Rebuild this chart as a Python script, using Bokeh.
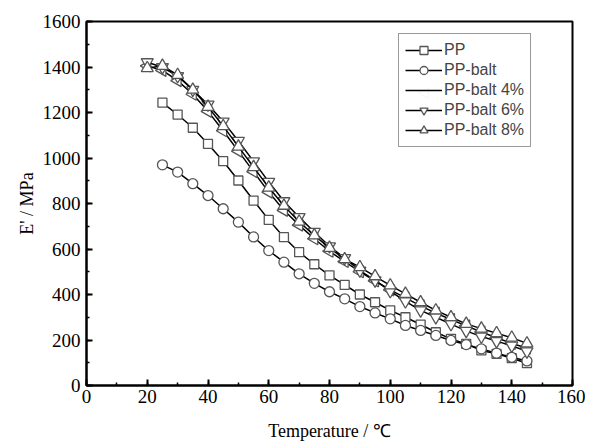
import math
from bokeh.plotting import figure
from bokeh.models import Range1d, SingleIntervalTicker, Legend, LegendItem, Label
from bokeh.embed import file_html
from bokeh.resources import INLINE

temps_tri = list(range(20, 150, 5))
temps_pp = list(range(25, 150, 5))

pp = [1243, 1191, 1133, 1062, 986, 901, 813, 728, 652, 586, 533, 484, 442, 400,
      366, 330, 300, 268, 234, 205, 183, 154, 139, 120, 98]
pp_balt = [970, 938, 887, 835, 777, 718, 653, 593, 542, 491, 449, 412, 381, 347,
           319, 293, 264, 242, 220, 198, 180, 161, 142, 124, 108]
pp_balt4 = [1405, 1385, 1340, 1280, 1205, 1120, 1030, 940, 850, 770, 705, 645, 590,
            545, 500, 460, 420, 385, 350, 318, 290, 262, 235, 210, 185, 165]
pp_balt6 = [1421, 1399, 1360, 1300, 1235, 1160, 1075, 985, 895, 810, 740, 675, 612,
            560, 505, 462, 415, 370, 330, 300, 270, 240, 215, 195, 175, 150]
pp_balt8 = [1395, 1405, 1365, 1300, 1225, 1140, 1050, 960, 870, 790, 720, 660, 605,
            555, 520, 480, 440, 403, 366, 330, 300, 271, 250, 230, 210, 185]

series = [
    ("PP", temps_pp, pp, "square", 0.0, 9),
    ("PP-balt", temps_pp, pp_balt, "circle", 0.0, 10),
    ("PP-balt 4%", temps_tri, pp_balt4, "triangle", math.pi / 2, 12),
    ("PP-balt 6%", temps_tri, pp_balt6, "inverted_triangle", 0.0, 12),
    ("PP-balt 8%", temps_tri, pp_balt8, "triangle", 0.0, 12),
]

p = figure(width=585, height=444, output_backend="svg", toolbar_location=None,
           x_range=Range1d(0, 160), y_range=Range1d(0, 1600),
           min_border_left=86, min_border_right=13, min_border_top=21, min_border_bottom=59)
p.background_fill_color = "white"
p.border_fill_color = "white"
p.outline_line_color = "black"
p.outline_line_width = 2
p.xgrid.visible = False
p.ygrid.visible = False

p.xaxis.ticker = SingleIntervalTicker(interval=20, num_minor_ticks=2)
p.yaxis.ticker = SingleIntervalTicker(interval=200, num_minor_ticks=2)
for ax in (p.xaxis[0], p.yaxis[0]):
    ax.axis_line_width = 2
    ax.axis_line_color = "black"
    ax.major_tick_in = 6
    ax.major_tick_out = 0
    ax.minor_tick_in = 3
    ax.minor_tick_out = 0
    ax.major_tick_line_width = 2
    ax.minor_tick_line_width = 1.5
    ax.major_tick_line_color = "black"
    ax.minor_tick_line_color = "black"
    ax.major_label_text_font = "Liberation Serif"
    ax.major_label_text_font_size = "19px"
    ax.major_label_text_color = "black"
    ax.axis_label_text_font = "Liberation Serif"
    ax.axis_label_text_font_size = "18px"
    ax.axis_label_text_font_style = "normal"
    ax.axis_label_text_color = "black"
p.xaxis.axis_label = "Temperature / \u2103"
p.yaxis.axis_label = "E' / MPa"
p.xaxis.major_label_standoff = 4
p.yaxis.major_label_standoff = 6
p.xaxis.axis_label_standoff = 15
p.yaxis.axis_label_standoff = 3

items = []
for name, xs, ys, marker, ang, size in series:
    ln = p.line(xs, ys, line_color="black", line_width=1.5)
    sc = p.scatter(x=xs, y=ys, marker=marker, angle=ang, angle_units="rad",
                   size=size, fill_color="white", line_color="#555555", line_width=1.3)
    rs = [ln] if ang != 0.0 else [ln, sc]
    items.append(LegendItem(label=name, renderers=rs))

legend = Legend(items=items, location=(312, 238), glyph_width=37, glyph_height=20,
                label_height=20, spacing=0, padding=6, margin=0, label_standoff=2,
                label_text_font="Liberation Sans", label_text_font_size="16px",
                border_line_color="#333333", border_line_width=1,
                background_fill_color="white")
p.add_layout(legend)

# left-pointing triangle symbol for the "PP-balt 4%" legend entry
p.add_layout(Label(x=336.5, y=285, x_units="screen", y_units="screen", text="\u25c1",
                   text_align="center", text_color="#555555", level="overlay",
                   text_font="DejaVu Sans", text_font_size="15px"))

p.add_layout(Label(x=-75, y=-52, x_units="screen", y_units="screen", text="(a)",
                   level="overlay",
                   text_font="Liberation Sans", text_font_size="22px"))

open("out.html", "w").write(file_html(p, INLINE))
